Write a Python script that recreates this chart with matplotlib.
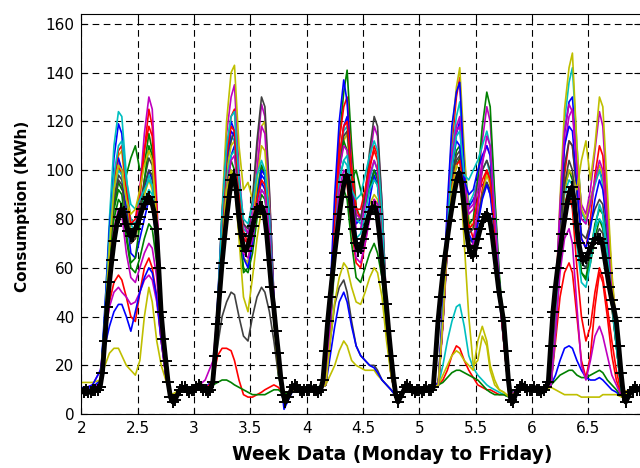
import numpy as np
import matplotlib
matplotlib.use("Agg")
import matplotlib.pyplot as plt

plt.rcParams['font.family'] = ['DejaVu Sans']

# weekdays, x = day number (2 = Monday ... 6 = Friday)
days = [2, 3, 4, 5, 6]
# sample times inside a day (fraction of day) for the individual profiles
day_t = [0.00, 0.10, 0.17, 0.21, 0.25, 0.29, 0.33, 0.36, 0.40, 0.44,
         0.48, 0.52, 0.56, 0.60, 0.63, 0.67, 0.71, 0.75, 0.80, 0.88]

# mean profile, half-hourly (48 values per day)
mean_load = [
    10, 9, 10, 9, 9, 10, 10, 10, 11, 17, 30, 44, 54, 63, 71, 77, 81, 84, 83, 78, 75, 73, 73, 76,
    78, 81, 84, 86, 88, 89, 87, 83, 76, 60, 42, 31, 22, 13, 7, 5, 6, 8, 10, 11, 11, 10, 9, 10,
    10, 11, 12, 11, 10, 10, 9, 10, 13, 24, 37, 50, 62, 72, 81, 89, 96, 98, 92, 82, 74, 69, 67, 69,
    73, 77, 81, 84, 85, 85, 82, 74, 63, 52, 44, 34, 25, 15, 8, 5, 7, 9, 11, 12, 11, 10, 9, 10,
    10, 10, 11, 10, 10, 9, 10, 14, 26, 38, 48, 57, 66, 74, 82, 89, 95, 98, 95, 85, 76, 70, 67, 68,
    72, 76, 80, 83, 85, 85, 82, 74, 64, 54, 45, 34, 24, 15, 8, 5, 7, 9, 11, 12, 11, 10, 9, 10,
    10, 9, 10, 11, 10, 10, 11, 24, 38, 48, 57, 65, 72, 79, 85, 91, 96, 99, 95, 86, 76, 69, 66, 65,
    68, 72, 76, 79, 81, 82, 80, 74, 66, 58, 50, 44, 38, 26, 14, 6, 5, 8, 10, 11, 12, 11, 10, 10,
    10, 11, 10, 10, 9, 10, 11, 13, 28, 42, 52, 60, 67, 74, 80, 86, 91, 93, 88, 78, 70, 65, 63, 64,
    66, 68, 70, 72, 72, 72, 70, 64, 58, 52, 47, 43, 38, 28, 17, 8, 5, 7, 9, 10, 11, 10, 10, 10,
]

s01 = [11, 10, 13, 40, 75, 105, 119, 115, 90, 74, 76, 84, 92, 100, 96, 72, 38, 18, 5, 10,
       10, 11, 14, 42, 70, 92, 106, 110, 90, 72, 70, 78, 88, 95, 92, 78, 45, 22, 4, 10,
       10, 10, 13, 42, 76, 104, 118, 122, 96, 78, 80, 88, 94, 100, 98, 75, 42, 20, 5, 11,
       10, 11, 12, 40, 75, 100, 115, 120, 98, 85, 88, 92, 94, 95, 90, 80, 52, 34, 8, 10,
       11, 10, 13, 45, 82, 115, 128, 130, 105, 82, 80, 88, 95, 100, 96, 78, 54, 34, 9, 10]
s02 = [10, 9, 12, 35, 62, 85, 95, 92, 98, 105, 110, 100, 102, 115, 108, 78, 40, 18, 6, 10,
       10, 10, 12, 38, 65, 88, 100, 96, 75, 60, 58, 66, 80, 90, 88, 74, 40, 16, 5, 10,
       10, 11, 13, 42, 78, 112, 132, 141, 110, 85, 80, 86, 92, 96, 94, 76, 40, 18, 6, 10,
       9, 10, 12, 38, 68, 92, 102, 105, 88, 70, 68, 78, 90, 100, 96, 78, 50, 30, 7, 10,
       10, 10, 12, 40, 70, 92, 100, 96, 78, 58, 55, 62, 72, 80, 76, 60, 44, 28, 7, 10]
s03 = [10, 10, 12, 36, 66, 90, 102, 98, 85, 70, 72, 88, 108, 125, 118, 82, 40, 18, 5, 10,
       11, 10, 13, 42, 78, 108, 122, 125, 95, 75, 70, 78, 90, 100, 98, 80, 44, 20, 6, 10,
       10, 10, 12, 44, 80, 112, 126, 130, 102, 84, 80, 88, 100, 110, 106, 80, 42, 18, 6, 10,
       10, 11, 13, 40, 78, 110, 130, 138, 100, 78, 72, 80, 92, 100, 96, 78, 50, 32, 8, 10,
       10, 10, 12, 38, 70, 98, 112, 110, 92, 72, 68, 80, 98, 110, 106, 82, 54, 34, 8, 10]
s04 = [10, 9, 12, 42, 80, 110, 124, 122, 98, 78, 74, 82, 90, 98, 94, 72, 36, 16, 5, 10,
       10, 10, 13, 40, 74, 100, 114, 112, 92, 76, 74, 80, 92, 102, 98, 80, 44, 20, 6, 10,
       10, 11, 12, 40, 72, 100, 116, 118, 95, 80, 78, 86, 96, 104, 100, 78, 42, 18, 6, 10,
       10, 10, 12, 42, 78, 106, 122, 128, 104, 86, 90, 96, 100, 104, 98, 80, 52, 32, 8, 10,
       11, 10, 13, 44, 84, 120, 136, 142, 110, 84, 78, 86, 94, 100, 94, 74, 50, 30, 8, 10]
s05 = [10, 10, 13, 38, 68, 92, 104, 100, 88, 74, 76, 92, 115, 130, 125, 88, 44, 20, 6, 10,
       10, 10, 12, 44, 82, 115, 130, 135, 100, 78, 74, 86, 108, 127, 122, 90, 48, 22, 5, 10,
       10, 10, 13, 40, 74, 102, 118, 120, 98, 82, 80, 90, 104, 118, 114, 86, 44, 20, 6, 10,
       10, 11, 12, 40, 76, 104, 118, 122, 100, 84, 86, 96, 112, 126, 120, 88, 56, 34, 8, 10,
       10, 10, 12, 42, 80, 110, 122, 125, 104, 86, 82, 92, 108, 124, 118, 86, 56, 36, 9, 10]
s06 = [9, 10, 12, 36, 66, 92, 106, 108, 88, 74, 72, 80, 90, 96, 92, 72, 38, 16, 5, 10,
       10, 10, 13, 44, 84, 120, 140, 143, 110, 92, 95, 88, 100, 118, 120, 88, 46, 20, 6, 10,
       10, 10, 12, 40, 74, 100, 112, 115, 90, 70, 68, 76, 86, 90, 88, 70, 36, 16, 6, 10,
       10, 10, 13, 44, 82, 115, 134, 142, 108, 80, 76, 80, 90, 98, 94, 74, 48, 30, 8, 10,
       11, 10, 13, 46, 88, 125, 142, 148, 110, 84, 80, 88, 96, 102, 98, 76, 52, 32, 8, 10]
s07 = [10, 10, 12, 34, 64, 88, 98, 96, 84, 72, 74, 84, 96, 105, 102, 78, 38, 18, 6, 10,
       10, 11, 12, 40, 74, 100, 112, 116, 94, 78, 76, 88, 112, 130, 126, 92, 48, 22, 5, 10,
       10, 10, 12, 40, 74, 100, 114, 116, 96, 80, 80, 90, 108, 122, 118, 86, 44, 20, 6, 10,
       10, 10, 12, 38, 70, 94, 104, 106, 88, 72, 70, 80, 90, 95, 92, 76, 50, 30, 7, 10,
       10, 10, 12, 40, 76, 102, 112, 110, 90, 74, 72, 78, 84, 88, 86, 70, 48, 30, 8, 10]
s08 = [10, 11, 14, 44, 76, 98, 105, 100, 82, 66, 64, 72, 80, 88, 86, 70, 38, 18, 6, 10,
       10, 10, 13, 46, 82, 108, 120, 116, 88, 64, 62, 72, 86, 98, 96, 80, 46, 22, 4, 10,
       10, 10, 14, 50, 90, 120, 137, 128, 96, 72, 66, 74, 88, 98, 94, 76, 40, 18, 6, 10,
       10, 10, 13, 46, 86, 118, 132, 136, 100, 74, 70, 78, 88, 94, 90, 74, 48, 30, 8, 10,
       10, 10, 12, 44, 82, 110, 118, 116, 94, 72, 68, 76, 88, 96, 92, 76, 52, 32, 8, 10]
s09 = [10, 10, 12, 34, 62, 84, 92, 90, 74, 62, 64, 78, 96, 110, 106, 80, 40, 18, 6, 10,
       10, 10, 12, 38, 70, 94, 104, 100, 78, 58, 60, 74, 90, 102, 98, 80, 44, 20, 5, 10,
       10, 10, 12, 40, 74, 100, 112, 108, 96, 100, 92, 86, 92, 100, 96, 76, 40, 18, 6, 10,
       10, 10, 12, 38, 70, 96, 108, 110, 92, 78, 80, 96, 118, 132, 126, 90, 58, 36, 9, 10,
       10, 10, 12, 34, 64, 82, 88, 86, 70, 58, 56, 66, 78, 84, 82, 66, 46, 28, 7, 10]
s10 = [10, 10, 12, 30, 46, 54, 57, 55, 48, 40, 38, 50, 60, 64, 60, 48, 30, 16, 6, 10,
       10, 10, 14, 24, 27, 27, 26, 22, 14, 8, 7, 7, 8, 9, 10, 11, 12, 11, 8, 10,
       10, 10, 12, 36, 66, 88, 96, 94, 76, 62, 60, 70, 82, 88, 86, 70, 38, 16, 6, 10,
       10, 10, 12, 14, 18, 24, 28, 27, 22, 18, 15, 12, 11, 10, 10, 9, 8, 8, 7, 10,
       10, 10, 12, 36, 66, 86, 92, 84, 60, 40, 30, 36, 50, 60, 56, 44, 30, 18, 7, 10]
s11 = [10, 10, 12, 38, 70, 92, 100, 98, 88, 80, 78, 82, 88, 92, 90, 72, 36, 16, 6, 10,
       10, 10, 12, 40, 74, 98, 106, 108, 88, 72, 70, 76, 86, 92, 90, 74, 42, 20, 5, 10,
       10, 10, 12, 40, 72, 96, 104, 102, 86, 72, 74, 82, 92, 96, 94, 74, 40, 18, 6, 10,
       10, 10, 12, 20, 30, 38, 44, 45, 36, 24, 19, 16, 14, 12, 11, 10, 9, 8, 7, 10,
       10, 10, 12, 36, 68, 90, 96, 94, 76, 62, 60, 68, 76, 80, 78, 64, 46, 28, 7, 10]
s12 = [10, 12, 18, 32, 44, 50, 52, 50, 48, 45, 46, 50, 55, 57, 55, 46, 30, 16, 6, 10,
       10, 14, 22, 42, 70, 92, 104, 106, 88, 72, 70, 80, 100, 118, 115, 86, 46, 22, 5, 10,
       10, 10, 12, 40, 74, 100, 110, 108, 90, 76, 76, 86, 98, 104, 100, 78, 42, 18, 6, 10,
       10, 10, 12, 42, 78, 106, 116, 118, 96, 82, 84, 92, 104, 110, 106, 82, 54, 32, 8, 10,
       10, 10, 13, 46, 86, 116, 127, 124, 100, 80, 78, 86, 96, 104, 100, 78, 52, 32, 8, 10]
s13 = [13, 13, 14, 20, 25, 27, 27, 24, 20, 18, 16, 22, 40, 52, 46, 30, 20, 14, 8, 10,
       10, 10, 12, 40, 74, 100, 110, 112, 88, 64, 62, 74, 96, 110, 108, 84, 44, 20, 5, 10,
       10, 10, 12, 16, 20, 26, 30, 28, 22, 20, 19, 18, 18, 18, 16, 14, 12, 10, 7, 10,
       10, 10, 12, 16, 20, 24, 26, 25, 22, 20, 18, 30, 36, 30, 20, 14, 10, 9, 7, 10,
       10, 10, 12, 38, 70, 92, 100, 98, 92, 104, 112, 96, 110, 130, 126, 92, 58, 36, 9, 10]
s14 = [10, 10, 12, 36, 66, 88, 96, 94, 80, 70, 72, 84, 94, 100, 98, 76, 38, 18, 6, 10,
       10, 10, 12, 28, 40, 46, 50, 49, 40, 32, 30, 40, 48, 52, 50, 42, 30, 16, 6, 10,
       10, 10, 12, 30, 45, 52, 55, 50, 38, 28, 24, 22, 20, 20, 18, 14, 12, 10, 7, 10,
       10, 10, 12, 38, 70, 96, 106, 108, 90, 74, 76, 88, 100, 104, 100, 78, 52, 32, 8, 10,
       10, 10, 12, 38, 70, 94, 104, 100, 80, 62, 60, 66, 72, 76, 74, 62, 44, 28, 7, 10]
s15 = [10, 12, 18, 28, 36, 42, 45, 45, 40, 34, 42, 50, 56, 60, 58, 48, 30, 16, 6, 10,
       10, 10, 12, 42, 78, 104, 116, 114, 88, 64, 60, 70, 88, 100, 98, 82, 46, 22, 2, 10,
       10, 10, 12, 24, 36, 46, 50, 46, 36, 28, 24, 22, 20, 19, 17, 14, 12, 10, 7, 10,
       10, 10, 12, 40, 76, 102, 112, 110, 96, 90, 92, 100, 106, 110, 106, 82, 54, 34, 8, 10,
       10, 10, 12, 16, 22, 27, 28, 27, 22, 18, 15, 14, 14, 15, 14, 12, 10, 9, 7, 10]
s16 = [10, 10, 12, 34, 62, 80, 88, 86, 72, 60, 58, 64, 72, 78, 76, 62, 34, 16, 6, 10,
       10, 10, 12, 13, 14, 14, 13, 12, 11, 10, 9, 8, 8, 8, 8, 9, 10, 10, 8, 10,
       10, 10, 12, 34, 62, 84, 92, 88, 70, 56, 54, 60, 66, 70, 66, 56, 34, 16, 6, 10,
       10, 10, 12, 13, 15, 17, 18, 18, 17, 16, 15, 14, 12, 10, 9, 8, 8, 8, 7, 10,
       10, 10, 12, 14, 16, 17, 18, 18, 16, 15, 15, 16, 17, 18, 17, 14, 12, 10, 7, 10]
s17 = [10, 10, 12, 38, 70, 96, 108, 110, 92, 78, 80, 92, 108, 118, 114, 84, 42, 20, 6, 10,
       10, 10, 12, 42, 78, 106, 118, 116, 90, 72, 70, 78, 88, 96, 94, 78, 44, 20, 5, 10,
       10, 10, 12, 42, 78, 106, 118, 120, 98, 84, 84, 92, 102, 108, 104, 80, 42, 18, 6, 10,
       10, 10, 12, 38, 70, 94, 102, 104, 88, 76, 78, 88, 96, 100, 96, 76, 50, 30, 7, 10,
       10, 10, 12, 30, 48, 58, 62, 58, 40, 22, 15, 24, 44, 58, 54, 40, 24, 14, 7, 10]
s18 = [10, 10, 12, 40, 72, 98, 110, 112, 96, 86, 84, 88, 92, 96, 94, 74, 38, 18, 6, 10,
       10, 10, 12, 44, 82, 110, 122, 124, 96, 80, 78, 86, 98, 104, 100, 80, 44, 20, 5, 10,
       10, 10, 12, 38, 70, 96, 104, 106, 92, 88, 90, 98, 106, 112, 108, 82, 42, 18, 6, 10,
       10, 10, 12, 40, 76, 102, 114, 116, 98, 96, 100, 104, 110, 116, 110, 84, 54, 34, 8, 10,
       10, 10, 12, 34, 62, 82, 90, 88, 70, 54, 52, 62, 76, 86, 82, 66, 46, 28, 7, 10]
s19 = [10, 10, 12, 32, 58, 76, 84, 82, 66, 56, 54, 60, 66, 70, 68, 56, 32, 16, 6, 10,
       10, 10, 12, 36, 66, 88, 96, 94, 78, 66, 64, 72, 84, 92, 90, 74, 42, 20, 5, 10,
       10, 10, 12, 36, 68, 92, 100, 98, 80, 64, 62, 70, 80, 88, 86, 70, 38, 16, 6, 10,
       10, 10, 12, 36, 68, 90, 98, 96, 80, 68, 70, 84, 102, 114, 110, 82, 54, 32, 8, 10,
       10, 10, 12, 34, 58, 72, 76, 70, 44, 20, 14, 22, 32, 36, 32, 24, 16, 12, 7, 10]
s20 = [10, 10, 12, 38, 68, 92, 102, 100, 88, 82, 84, 92, 102, 108, 104, 80, 40, 18, 6, 10,
       10, 10, 12, 38, 68, 92, 100, 96, 72, 48, 42, 56, 72, 84, 82, 68, 38, 18, 5, 10,
       10, 10, 12, 30, 46, 56, 62, 60, 52, 46, 45, 50, 56, 60, 58, 48, 30, 16, 6, 10,
       10, 10, 12, 38, 70, 92, 102, 100, 70, 40, 20, 22, 32, 28, 18, 12, 10, 9, 7, 10,
       10, 10, 11, 10, 9, 8, 8, 8, 8, 7, 7, 7, 7, 7, 8, 8, 8, 8, 7, 10]

series = [s01, s02, s03, s04, s05, s06, s07, s08, s09, s10,
          s11, s12, s13, s14, s15, s16, s17, s18, s19, s20]

# old matlab colour order
matlab_colors = [(0, 0, 1), (0, 0.5, 0), (1, 0, 0), (0, 0.75, 0.75),
                 (0.75, 0, 0.75), (0.75, 0.75, 0), (0.25, 0.25, 0.25)]


def main():
    x_day = np.concatenate([d + np.array(day_t) for d in days])
    x_mean = np.concatenate([d + np.arange(48) / 48.0 for d in days])

    fig = plt.figure(figsize=(6.4, 4.68), dpi=100)
    ax = fig.add_axes([0.127, 0.115, 0.873, 0.855])

    for i, s in enumerate(series):
        ax.plot(x_day, s, color=matlab_colors[i % 7], lw=1.2)

    ax.plot(x_mean, mean_load, color='k', lw=3.5, marker='+', ms=9, mew=1.4)

    ax.set_xlim(2, 6.96)
    ax.set_ylim(0, 164)
    ax.set_xticks([2, 2.5, 3, 3.5, 4, 4.5, 5, 5.5, 6, 6.5])
    ax.set_xticklabels(['2', '2.5', '3', '3.5', '4', '4.5', '5', '5.5', '6', '6.5'])
    ax.set_yticks(range(0, 161, 20))

    ax.grid(True, color='k', linestyle=(0, (6, 4)), linewidth=0.8)
    ax.tick_params(direction='in', top=True, right=True, length=4, labelsize=11, pad=5)
    ax.spines['right'].set_visible(False)

    ax.set_xlabel('Week Data (Monday to Friday)', fontsize=13.5, fontweight='bold')
    ax.set_ylabel('Consumption (KWh)', fontsize=11, fontweight='bold')
    ax.xaxis.set_label_coords(0.556, -0.078)
    ax.yaxis.set_label_coords(-0.091, 0.52)

    fig.savefig('out.png', dpi=100)


if __name__ == '__main__':
    main()
